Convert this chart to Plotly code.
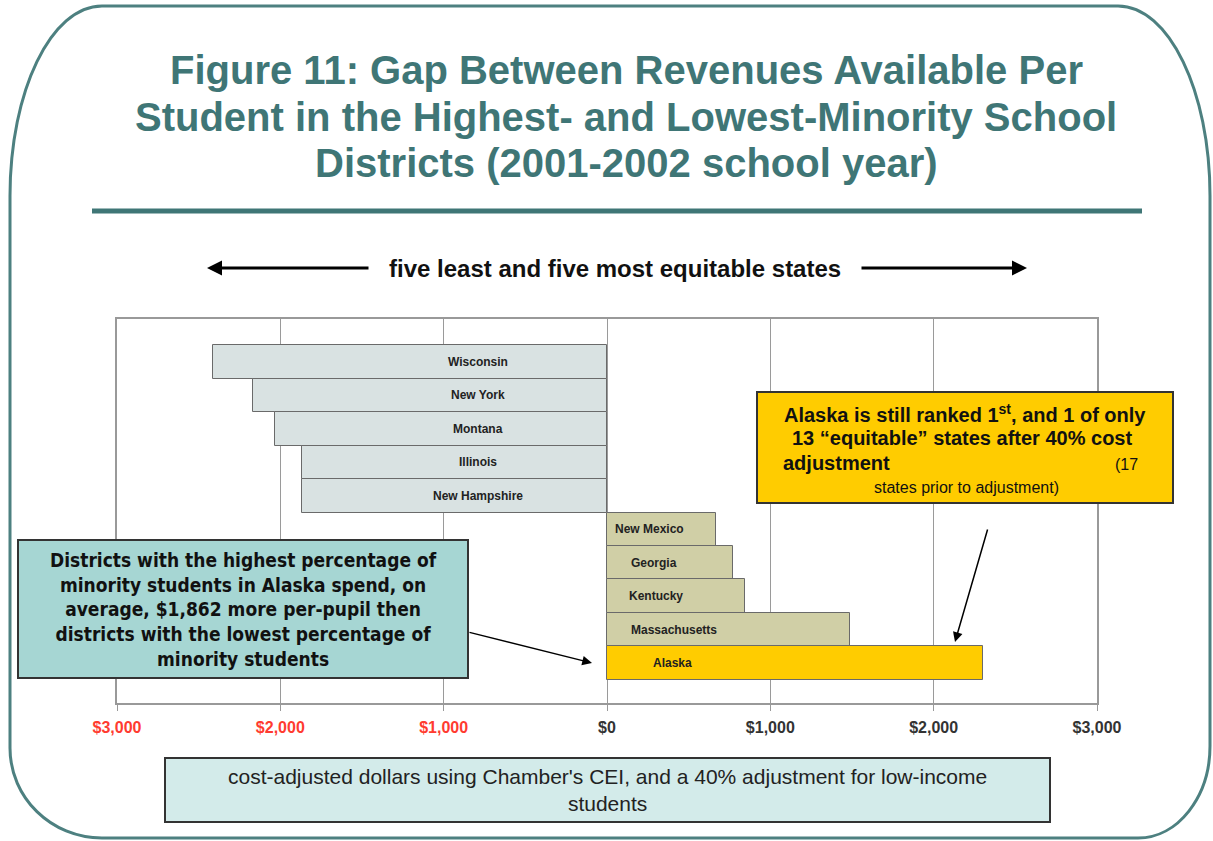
import plotly.graph_objects as go

# ---- data -------------------------------------------------------------
states = ["Wisconsin", "New York", "Montana", "Illinois", "New Hampshire",
          "New Mexico", "Georgia", "Kentucky", "Massachusetts", "Alaska"]
gap = [-2410, -2165, -2030, -1865, -1865, 665, 770, 845, 1490, 2300]
tick_values = [-3000, -2000, -1000, 0, 1000, 2000, 3000]
tick_labels = ["$3,000", "$2,000", "$1,000", "$0", "$1,000", "$2,000", "$3,000"]

title_lines = ["Figure 11: Gap Between Revenues Available Per",
               "Student in the Highest- and Lowest-Minority School",
               "Districts (2001-2002 school year)"]

# ---- canvas geometry (pixels) ----------------------------------------
W, H = 1213, 841
L, R, T, B = 117, 1097, 319, 703


def px(x):
    return (x - L) / (R - L)


def py(y):
    return (B - y) / (B - T)


TEAL = "#3f7676"
NEG_FILL = "#d9e2e2"
POS_FILL = "#d0cfa6"
HILITE = "#ffcc00"
NARROW = "DejaVu Sans Condensed, Liberation Sans Narrow, Liberation Sans, sans-serif"

colors = []
for s, v in zip(states, gap):
    if s == "Alaska":
        colors.append(HILITE)
    elif v < 0:
        colors.append(NEG_FILL)
    else:
        colors.append(POS_FILL)

fig = go.Figure()
fig.add_trace(go.Bar(
    x=gap, y=states, orientation="h",
    marker=dict(color=colors, line=dict(color="#6a6a6a", width=1)),
    hoverinfo="x+y",
))

ann = []


def note(x, y, text, **kw):
    d = dict(x=px(x), y=py(y), xref="paper", yref="paper", text=text,
             showarrow=False, xanchor="center", yanchor="middle")
    d.update(kw)
    ann.append(d)


def arrow(x_head, y_head, x_tail, y_tail, width, size):
    ann.append(dict(x=px(x_head), y=py(y_head), xref="paper", yref="paper",
                    ax=x_tail - x_head, ay=y_tail - y_head, text="",
                    showarrow=True, arrowhead=2, arrowsize=size,
                    arrowwidth=width, arrowcolor="#000"))


# ---- labels inside bars ------------------------------------------------
pos_shift = {"New Mexico": 6, "Georgia": 22, "Kentucky": 20,
             "Massachusetts": 22, "Alaska": 44}
for s, v in zip(states, gap):
    lab = dict(y=s, xref="x", yref="y", text=f"<b>{s}</b>", showarrow=False,
               yanchor="middle",
               font=dict(size=12, color="#222", family="Liberation Sans"))
    if v < 0:
        lab.update(x=-790, xanchor="center")
    else:
        lab.update(x=0, xanchor="left", xshift=pos_shift.get(s, 8))
    ann.append(lab)

# ---- tick text: negatives in red --------------------------------------
ticktext = []
for v, t in zip(tick_values, tick_labels):
    c = "#ff3b30" if v < 0 else "#333333"
    ticktext.append(f"<span style='color:{c}'><b>{t}</b></span>")

shapes = []

# outer rounded frame
k = 0.5523
xl, xr, yt, yb = 10, 1210, 6, 838
tl_rx, tl_ry = 92, 190
tr_rx, tr_ry = 92, 190
bl_rx, bl_ry = 92, 90
br_rx, br_ry = 72, 92


def P(x, y):
    return f"{px(x):.5f},{py(y):.5f}"


path = (
    f"M {P(xl, yt + tl_ry)} "
    f"C {P(xl, yt + tl_ry * (1 - k))} {P(xl + tl_rx * (1 - k), yt)} {P(xl + tl_rx, yt)} "
    f"L {P(xr - tr_rx, yt)} "
    f"C {P(xr - tr_rx * (1 - k), yt)} {P(xr, yt + tr_ry * (1 - k))} {P(xr, yt + tr_ry)} "
    f"L {P(xr, yb - br_ry)} "
    f"C {P(xr, yb - br_ry * (1 - k))} {P(xr - br_rx * (1 - k), yb)} {P(xr - br_rx, yb)} "
    f"L {P(xl + bl_rx, yb)} "
    f"C {P(xl + bl_rx * (1 - k), yb)} {P(xl, yb - bl_ry * (1 - k))} {P(xl, yb - bl_ry)} Z"
)
shapes.append(dict(type="path", xref="paper", yref="paper", path=path,
                   line=dict(color="#4d8080", width=3), layer="below"))

# rule under the title
shapes.append(dict(type="line", xref="paper", yref="paper",
                   x0=px(92), x1=px(1142), y0=py(211), y1=py(211),
                   line=dict(color=TEAL, width=5)))

# callout boxes
shapes.append(dict(type="rect", xref="paper", yref="paper",
                   x0=px(757), x1=px(1173), y0=py(392), y1=py(503),
                   fillcolor=HILITE, line=dict(color="#333", width=2)))
shapes.append(dict(type="rect", xref="paper", yref="paper",
                   x0=px(18), x1=px(468), y0=py(540), y1=py(678),
                   fillcolor="#a6d6d3", line=dict(color="#333", width=2)))
shapes.append(dict(type="rect", xref="paper", yref="paper",
                   x0=px(165), x1=px(1050), y0=py(758), y1=py(822),
                   fillcolor="#d3ebea", line=dict(color="#333", width=2)))

# title
for i, line in enumerate(title_lines):
    note(626, 70 + 46.5 * i, f"<b>{line}</b>",
         font=dict(size=40, color=TEAL, family="Liberation Sans"))

# header with arrows
note(615, 268, "<b>five least and five most equitable states</b>",
     font=dict(size=24, color="#111", family="Liberation Sans"))
arrow(207, 268, 370, 268, 3, 1)
arrow(1027, 268, 860, 268, 3, 1)

# yellow callout text
yfont = dict(size=20, color="#111", family="Liberation Sans")
sfont = dict(size=16, color="#111", family="Liberation Sans")
note(965, 413, "<b>Alaska is still ranked 1<sup>st</sup>, and 1 of only</b>",
     font=yfont)
note(962, 438, "<b>13 \u201cequitable\u201d states after 40% cost</b>", font=yfont)
note(781, 463, "<b>adjustment</b>", xanchor="left", font=yfont)
note(1140, 464, "(17", xanchor="right", font=sfont)
note(966, 487, "states prior to adjustment)", font=sfont)
arrow(955, 642, 988, 528, 1.5, 1.3)

# teal callout text
note(243, 609, ("<b>Districts with the highest percentage of<br>"
                "minority students in Alaska spend, on<br>"
                "average, $1,862 more per-pupil then<br>"
                "districts with the lowest percentage of<br>"
                "minority students</b>"),
     font=dict(size=19, color="#111", family=NARROW))
arrow(592, 663, 468, 632, 1.5, 1.3)

# footnote box text
note(607, 790, ("cost-adjusted dollars using Chamber's CEI, and a 40% "
                "adjustment for low-income<br>students"),
     font=dict(size=21, color="#222", family="Liberation Sans"))

fig.update_layout(
    width=W, height=H,
    margin=dict(l=L, r=W - R, t=T, b=H - B, pad=0),
    paper_bgcolor="white", plot_bgcolor="white",
    bargap=0, showlegend=False,
    shapes=shapes, annotations=ann,
    font=dict(family="Liberation Sans"),
)
fig.update_xaxes(
    range=[-3000, 3000], tickvals=tick_values, ticktext=ticktext,
    showgrid=True, gridcolor="#9a9a9a", gridwidth=1, zeroline=False,
    showline=True, mirror=True, linecolor="#999", linewidth=1.5,
    ticks="outside", ticklen=6, tickcolor="#999",
    tickfont=dict(size=16, family="Liberation Sans"),
    ticklabelstandoff=3,
)
fig.update_yaxes(
    categoryorder="array", categoryarray=states,
    range=[10.19, -1.28], showticklabels=False, showgrid=False,
    zeroline=False, showline=True, mirror=True, linecolor="#999", linewidth=1.5,
)

fig.write_html("out.html")
